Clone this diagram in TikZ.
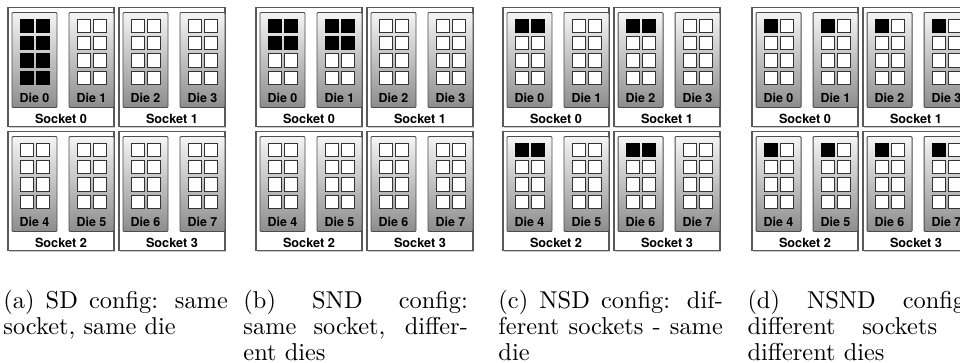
\documentclass[tikz,border=0pt]{standalone}
\usepackage{fontspec}
\newfontfamily\helv{TeX Gyre Heros}
\usetikzlibrary{shadows}

\tikzset{
  socketbox/.style={draw=black!65, fill=white, line width=0.45pt,
    drop shadow={opacity=0.4, shadow xshift=0.3pt, shadow yshift=-0.55pt}},
  diebox/.style={draw=black!70, line width=0.4pt, top color=black!4,
    bottom color=black!45, rounded corners=0.4pt},
  idlecore/.style={draw=black!80, fill=white, line width=0.4pt},
  busycore/.style={draw=black, fill=black, line width=0.4pt},
  dielabel/.style={font=\helv\bfseries\fontsize{5.1}{6}\selectfont, inner sep=0pt},
  socketlabel/.style={font=\helv\bfseries\fontsize{5.2}{6}\selectfont, inner sep=0pt},
  subcap/.style={font=\fontsize{10}{10.6}\selectfont, text width=92pt,
    align=justify, inner sep=0pt, anchor=north west},
}

\begin{document}
\begin{tikzpicture}[x=0.41pt, y=-0.41pt]
  \useasboundingbox (0,0) rectangle (960,362);

  % four panels: 4 sockets x 2 dies x 8 cores each
  % mode: 0 = SD, 1 = SND, 2 = NSD, 3 = NSND
  \foreach \p/\px/\mode in {a/8/0, b/256/1, c/503/2, d/752/3}{
    \foreach \s in {0,...,3}{
      \pgfmathsetmacro{\sx}{\px+111*mod(\s,2)}
      \pgfmathsetmacro{\sy}{7.5+124*floor(\s/2)}
      \draw[socketbox] (\sx,\sy) rectangle ++(106,119);
      \node[socketlabel] (sock-\p\s) at (\sx+53,\sy+111) {Socket \s};
      \foreach \k in {0,1}{
        \pgfmathtruncatemacro{\d}{2*\s+\k}
        \pgfmathsetmacro{\dx}{\sx+4+57*\k}
        \pgfmathsetmacro{\dy}{\sy+5}
        \draw[diebox] (\dx,\dy) rectangle ++(45,95);
        \node[dielabel] (die-\p\d) at (\dx+22.5,\dy+85) {Die \d};
        \foreach \r in {0,...,3}{
          \foreach \c in {0,1}{
            % which cores hold a thread in this configuration
            \pgfmathtruncatemacro{\busy}{(\mode==0)*(\d==0)
              + (\mode==1)*(\d<2)*(\r<2)
              + (\mode==2)*(mod(\d,2)==0)*(\r==0)
              + (\mode==3)*(\r==0)*(\c==0)}
            \ifnum\busy>0 \def\corestyle{busycore}\else\def\corestyle{idlecore}\fi
            \draw[\corestyle] (\dx+8+16.3*\c,\dy+6.7+17.3*\r) rectangle ++(13.3,13.3);
          }
        }
      }
    }
  }

  % captions
  \node[subcap] (cap-a) at (3,290)
    {(a) SD config: same\linebreak socket, same die};
  \node[subcap] (cap-b) at (243,290)
    {(b) SND config:\linebreak same socket, differ-\linebreak ent dies};
  \node[subcap] (cap-c) at (498,290)
    {(c) NSD config: dif-\linebreak ferent sockets - same\linebreak die};
  \node[subcap] (cap-d) at (747,290)
    {(d) NSND config:\linebreak different sockets -\linebreak different dies};
\end{tikzpicture}
\end{document}
